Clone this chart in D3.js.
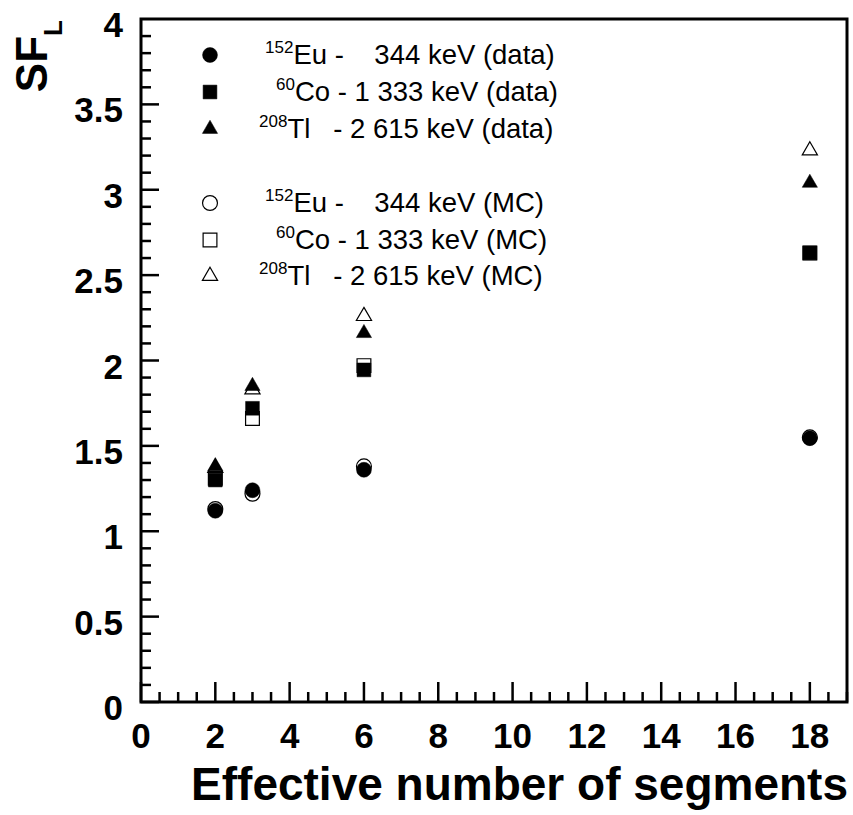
<!DOCTYPE html>
<html>
<head>
<meta charset="utf-8">
<script src="https://cdn.jsdelivr.net/npm/d3@7"></script>
<style>
  body { margin: 0; background: #fff; }
  text { font-family: "Liberation Sans", Arial, sans-serif; fill: #000; }
</style>
</head>
<body>
<svg id="chart" width="853" height="815"></svg>
<script>
// segments on the x axis
const segments = [2, 3, 6, 18];

// measured values
const euData = [1.12, 1.24, 1.36, 1.545];
const coData = [1.30, 1.72, 1.945, 2.63];
const tlData = [1.38, 1.85, 2.16, 3.04];
// Monte Carlo
const euMC = [1.13, 1.22, 1.38, 1.55];
const coMC = [1.31, 1.66, 1.97, 2.63];
const tlMC = [1.37, 1.83, 2.26, 3.23];

const xTicks = [0, 2, 4, 6, 8, 10, 12, 14, 16, 18];
const yTicks = [0, 0.5, 1, 1.5, 2, 2.5, 3, 3.5, 4];

const series = [
    { values: euMC, shape: 'circle', filled: false, iso: '152', el: 'Eu', rest: ' -    344 keV (MC)', sx: 265 },
    { values: coMC, shape: 'square', filled: false, iso: '60', el: 'Co', rest: ' - 1 333 keV (MC)', sx: 276 },
    { values: tlMC, shape: 'triangle', filled: false, iso: '208', el: 'Tl', rest: '   - 2 615 keV (MC)', sx: 259 },
    { values: euData, shape: 'circle', filled: true, iso: '152', el: 'Eu', rest: ' -    344 keV (data)', sx: 265 },
    { values: coData, shape: 'square', filled: true, iso: '60', el: 'Co', rest: ' - 1 333 keV (data)', sx: 276 },
    { values: tlData, shape: 'triangle', filled: true, iso: '208', el: 'Tl', rest: '   - 2 615 keV (data)', sx: 259 }
];
// legend order (top to bottom)
const legendOrder = [3, 4, 5, 0, 1, 2];
const legendY = [55, 92, 129, 203, 240, 276];

const svg = d3.select('#chart');
const mLeft = 141, mRight = 847, mTop = 19, mBottom = 702;

const x = d3.scaleLinear().domain([0, 19]).range([mLeft, mRight]);
const y = d3.scaleLinear().domain([0, 4]).range([mBottom, mTop]);

const symbolFor = {
    circle: d3.symbol(d3.symbolCircle, 175),
    square: d3.symbol(d3.symbolSquare, 190),
    triangle: d3.symbol(d3.symbolTriangle, 100)
};

// ticks, drawn inward
const g = svg.append('g');
g.selectAll('.xminor')
    .data(d3.range(0, 19.01, 0.5))
    .enter().append('line')
    .attr('x1', d => x(d)).attr('x2', d => x(d))
    .attr('y1', mBottom).attr('y2', d => mBottom - (d % 2 === 0 ? 20 : 10))
    .attr('stroke', '#000').attr('stroke-width', 2.5);
g.selectAll('.yminor')
    .data(d3.range(0, 40).map(i => i / 10))
    .enter().append('line')
    .attr('y1', d => y(d)).attr('y2', d => y(d))
    .attr('x1', mLeft).attr('x2', d => mLeft + (Math.round(d * 10) % 5 === 0 ? 18 : 10))
    .attr('stroke', '#000').attr('stroke-width', 2.5);

// frame
svg.append('rect')
    .attr('x', mLeft).attr('y', mTop)
    .attr('width', mRight - mLeft).attr('height', mBottom - mTop)
    .attr('fill', 'none').attr('stroke', '#000').attr('stroke-width', 3);

// tick labels
svg.selectAll('.xlab')
    .data(xTicks)
    .enter().append('text')
    .attr('x', d => x(d)).attr('y', 748)
    .attr('text-anchor', 'middle')
    .attr('font-weight', 'bold').attr('font-size', 35)
    .text(d => d);
svg.selectAll('.ylab')
    .data(yTicks)
    .enter().append('text')
    .attr('x', 123).attr('y', d => y(d) + 18)
    .attr('text-anchor', 'end')
    .attr('font-weight', 'bold').attr('font-size', 35)
    .text(d => d);

// axis titles
svg.append('text')
    .attr('x', 848).attr('y', 800)
    .attr('text-anchor', 'end')
    .attr('font-weight', 'bold').attr('font-size', 46)
    .text('Effective number of segments');

const yt = svg.append('text')
    .attr('transform', 'translate(47,20) rotate(-90)')
    .attr('text-anchor', 'end')
    .attr('font-weight', 'bold').attr('font-size', 44);
yt.append('tspan').text('SF');
yt.append('tspan').attr('font-size', 26).attr('dy', 15).text('L');

// markers
const drawMarker = (sel, s) => sel
    .attr('d', symbolFor[s.shape]())
    .attr('fill', s.filled ? '#000' : 'none')
    .attr('stroke', '#000')
    .attr('stroke-width', s.filled ? 0.5 : 1.2);

series.forEach(s => {
    svg.append('g')
        .selectAll('path')
        .data(s.values.map((v, i) => ({ seg: segments[i], v })))
        .enter().append('path')
        .attr('transform', d => `translate(${x(d.seg)},${y(d.v)})`)
        .call(drawMarker, s);
});

// legend
legendOrder.forEach((idx, row) => {
    const s = series[idx];
    const ly = legendY[row];
    svg.append('path')
        .attr('transform', `translate(210,${ly})`)
        .call(drawMarker, s);
    const t = svg.append('text')
        .attr('x', s.sx).attr('y', ly + 9)
        .attr('font-size', 27.5)
        .style('white-space', 'pre');
    t.append('tspan').attr('font-size', 17).attr('dy', -11).text(s.iso);
    t.append('tspan').attr('dy', 11).text(s.el + s.rest);
});
</script>
</body>
</html>
